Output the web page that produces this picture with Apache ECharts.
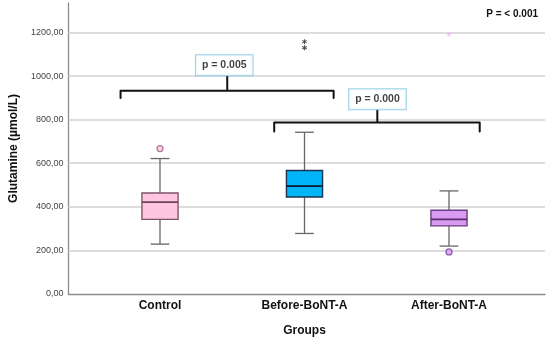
<!DOCTYPE html>
<html>
<head>
<meta charset="utf-8">
<script src="https://cdn.jsdelivr.net/npm/echarts@6/dist/echarts.min.js"></script>
<style>html,body{margin:0;padding:0;background:#fff}#c{width:550px;height:342px}</style>
</head>
<body>
<div id="c"></div>
<script>
// ---- data ----
const categories = ['Control', 'Before-BoNT-A', 'After-BoNT-A'];
const lowerWhisker = [225, 274, 216];
const q1 = [339, 442, 309];
const median = [418, 492, 339];
const q3 = [460, 564, 381];
const upperWhisker = [619, 740, 470];
const circleOutliers = [[0, 665], [2, 189]];
const extremeOutliers = [[1, 1157], [1, 1129]];
const faintOutliers = [[2, 1192]];
const yTicks = [0, 200, 400, 600, 800, 1000, 1200];
const pLabels = ['p = 0.005', 'p = 0.000'];
const overallP = 'P = < 0.001';

// bracket geometry in axis units (x: category position, y: value)
const bracket1 = [[-0.30, 899], [-0.30, 933], [1.188, 933], [1.188, 899]];
const stem1 = [[0.445, 933], [0.445, 1001]];
const label1 = [0.424, 1049];
const bracket2 = [[0.773, 745], [0.773, 787], [2.208, 787], [2.208, 745]];
const stem2 = [[1.493, 787], [1.493, 848]];
const label2 = [1.494, 893];

const fills = ['#FFC6E2', '#00B4F8', '#D99BF2'];
const borders = ['#7d5568', '#1b3550', '#6b3f80'];
const medians = ['#6b4458', '#0a1a28', '#5a2c70'];
const outFill = {0: '#FFC6E2', 2: '#D99BF2'};
const outBorder = {0: '#9a6080', 2: '#7a3d9a'};

const boxData = categories.map((c, i) => [i, lowerWhisker[i], q1[i], median[i], q3[i], upperWhisker[i]]);

const FONT = 'Liberation Sans';
const YMAX = 1335;

const asterisk = 'path://M-1,-5L1,-5L1,5L-1,5Z M3.83,-3.366L4.83,-1.634L-3.83,3.366L-4.83,1.634Z M4.83,1.634L3.83,3.366L-4.83,-1.634L-3.83,-3.366Z';

const chart = echarts.init(document.getElementById('c'), null, {renderer: 'canvas'});

function pLabel(text) {
  return {
    show: true, position: 'inside', formatter: text,
    fontFamily: FONT, fontSize: 10.5, fontWeight: 'bold', color: '#111',
    backgroundColor: '#fff', borderColor: '#7fc6e4', borderWidth: 1,
    padding: [4, 6, 3, 6], lineHeight: 13
  };
}

chart.setOption({
  animation: false,
  backgroundColor: '#fff',
  grid: [
    {left: 64, right: 5, top: 3, bottom: 48},
    {left: 87.75, right: 28.75, top: 3, bottom: 48}
  ],
  xAxis: [
    {
      gridIndex: 0, type: 'value', min: -0.664, max: 2.664,
      axisLine: {show: true, onZero: false, lineStyle: {color: '#8c8c8c', width: 1.3}},
      axisTick: {show: false}, axisLabel: {show: false}, splitLine: {show: false}
    },
    {
      gridIndex: 1, type: 'category', data: categories,
      axisLine: {show: false}, axisTick: {show: false},
      axisLabel: {fontFamily: FONT, fontSize: 12, fontWeight: 'bold', color: '#111', margin: 7},
      name: 'Groups', nameLocation: 'middle', nameGap: 32,
      nameTextStyle: {fontFamily: FONT, fontSize: 12, fontWeight: 'bold', color: '#111'}
    }
  ],
  yAxis: [
    {
      gridIndex: 0, type: 'value', min: 0, max: YMAX, interval: 200,
      axisLine: {show: true, onZero: false, lineStyle: {color: '#8c8c8c', width: 1.3}},
      axisTick: {show: false}, splitLine: {show: false},
      axisLabel: {
        fontFamily: FONT, fontSize: 9, color: '#444', margin: 5, showMaxLabel: false,
        formatter: v => yTicks.indexOf(v) >= 0 ? v.toFixed(2).replace('.', ',') : ''
      },
      name: 'Glutamine (µmol/L)', nameLocation: 'middle', nameGap: 45,
      nameTextStyle: {fontFamily: FONT, fontSize: 12, fontWeight: 'bold', color: '#111'}
    },
    {gridIndex: 1, type: 'value', min: 0, max: YMAX, show: false}
  ],
  graphic: [{
    type: 'text', right: 12, top: 9,
    style: {text: overallP, font: 'bold 10px "Liberation Sans"', fill: '#111'}
  }],
  series: [
    {
      type: 'line', xAxisIndex: 0, yAxisIndex: 0, data: [], silent: true, z: 1,
      markLine: {
        silent: true, symbol: 'none', label: {show: false},
        lineStyle: {color: '#d2d2d2', width: 1.5, type: 'solid'},
        data: yTicks.filter(v => v > 0).map(v => ({yAxis: v}))
      }
    },
    {
      type: 'custom', xAxisIndex: 1, yAxisIndex: 1, data: boxData, z: 5,
      renderItem: function (params, api) {
        const x = api.value(0);
        const i = params.dataIndex;
        const cx = api.coord([x, 0])[0];
        const y = k => api.coord([x, api.value(k)])[1];
        const band = api.size([1, 0])[0];
        const bw = band * 0.25, cw = band * 0.13;
        const wl = {stroke: '#666', lineWidth: 1.3};
        return {
          type: 'group', children: [
            {type: 'line', shape: {x1: cx, y1: y(5), x2: cx, y2: y(4)}, style: wl},
            {type: 'line', shape: {x1: cx, y1: y(2), x2: cx, y2: y(1)}, style: wl},
            {type: 'line', shape: {x1: cx - cw / 2, y1: y(5), x2: cx + cw / 2, y2: y(5)}, style: wl},
            {type: 'line', shape: {x1: cx - cw / 2, y1: y(1), x2: cx + cw / 2, y2: y(1)}, style: wl},
            {type: 'rect', shape: {x: cx - bw / 2, y: y(4), width: bw, height: y(2) - y(4)},
              style: {fill: fills[i], stroke: borders[i], lineWidth: 1.4}},
            {type: 'line', shape: {x1: cx - bw / 2, y1: y(3), x2: cx + bw / 2, y2: y(3)},
              style: {stroke: medians[i], lineWidth: 1.8}}
          ]
        };
      }
    },
    {
      type: 'scatter', xAxisIndex: 1, yAxisIndex: 1, z: 6, symbol: 'circle', symbolSize: 6,
      data: circleOutliers.map(p => ({value: p, itemStyle: {color: outFill[p[0]], borderColor: outBorder[p[0]], borderWidth: 1.3}}))
    },
    {
      type: 'scatter', xAxisIndex: 1, yAxisIndex: 1, z: 6, symbol: asterisk, symbolSize: 5,
      itemStyle: {color: '#222'}, data: extremeOutliers
    },
    {
      type: 'scatter', xAxisIndex: 1, yAxisIndex: 1, z: 6, symbol: asterisk, symbolSize: 5,
      itemStyle: {color: '#e6b8f4'}, data: faintOutliers
    },
    {
      type: 'line', xAxisIndex: 0, yAxisIndex: 0, data: bracket1, symbol: 'none', silent: true, z: 7,
      lineStyle: {color: '#111', width: 2, cap: 'round', join: 'round'}
    },
    {
      type: 'line', xAxisIndex: 0, yAxisIndex: 0, data: stem1, symbol: 'none', silent: true, z: 7,
      lineStyle: {color: '#111', width: 2}
    },
    {
      type: 'line', xAxisIndex: 0, yAxisIndex: 0, data: bracket2, symbol: 'none', silent: true, z: 7,
      lineStyle: {color: '#111', width: 2, cap: 'round', join: 'round'}
    },
    {
      type: 'line', xAxisIndex: 0, yAxisIndex: 0, data: stem2, symbol: 'none', silent: true, z: 7,
      lineStyle: {color: '#111', width: 2}
    },
    {
      type: 'scatter', xAxisIndex: 0, yAxisIndex: 0, z: 9, symbolSize: 1, silent: true,
      itemStyle: {color: 'rgba(0,0,0,0)'},
      data: [{value: label1, label: pLabel(pLabels[0])}, {value: label2, label: pLabel(pLabels[1])}]
    }
  ]
});
</script>
</body>
</html>
